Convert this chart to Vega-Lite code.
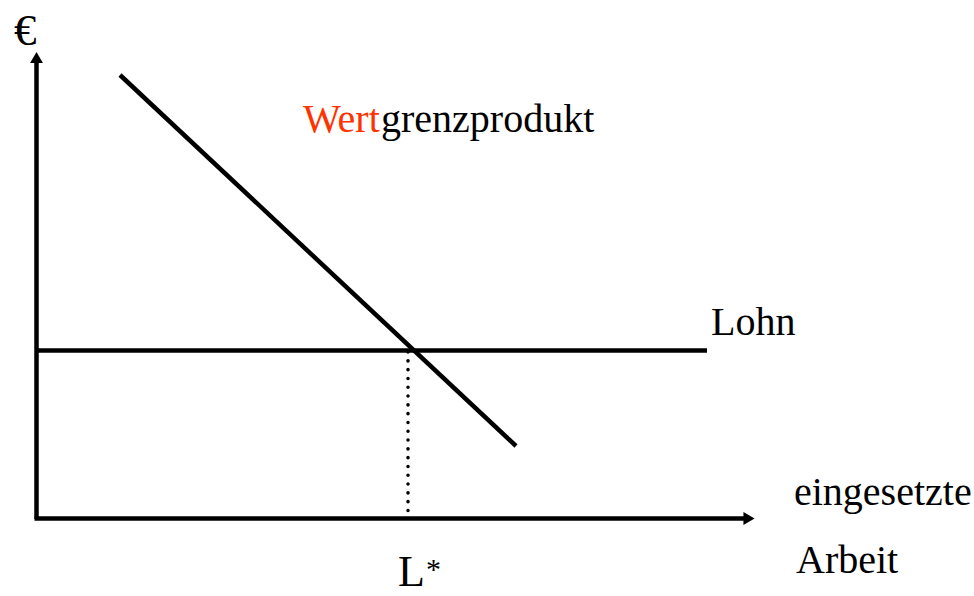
{
  "$schema": "https://vega.github.io/schema/vega-lite/v6.json",
  "width": 974,
  "height": 596,
  "padding": 0,
  "autosize": "none",
  "background": "white",
  "config": {"view": {"stroke": null}},
  "datasets": {
    "solid": [
      {"name": "y-Achse", "x1": 36.5, "y1": 77, "x2": 36.5, "y2": 536},
      {"name": "x-Achse", "x1": 34.5, "y1": 77.5, "x2": 745, "y2": 77.5},
      {"name": "Wertgrenzprodukt", "x1": 120, "y1": 521, "x2": 516, "y2": 150},
      {"name": "Lohn", "x1": 36.5, "y1": 245.5, "x2": 707, "y2": 245.5}
    ],
    "dotted": [
      {"name": "L*", "x1": 408, "y1": 244, "x2": 408, "y2": 80}
    ],
    "arrows": [
      {"dir": "up", "x": 36.5, "y": 538.5},
      {"dir": "right", "x": 749, "y": 77.5}
    ],
    "labels": [
      {"label": "€", "x": 14, "y": 551, "color": "#000000", "size": 45},
      {"label": "Wert", "x": 303, "y": 464, "color": "#FF3300", "size": 40},
      {"label": "grenzprodukt", "x": 381, "y": 464, "color": "#000000", "size": 40},
      {"label": "Lohn", "x": 711, "y": 261, "color": "#000000", "size": 40},
      {"label": "eingesetzte", "x": 794, "y": 91, "color": "#000000", "size": 40},
      {"label": "Arbeit", "x": 796, "y": 23, "color": "#000000", "size": 40},
      {"label": "L", "x": 398, "y": 10, "color": "#000000", "size": 44},
      {"label": "*", "x": 426, "y": 17, "color": "#000000", "size": 30}
    ]
  },
  "layer": [
    {
      "data": {"name": "solid"},
      "mark": {"type": "rule", "strokeWidth": 4.5, "color": "black", "strokeCap": "butt"},
      "encoding": {
        "x": {"field": "x1", "type": "quantitative", "scale": {"domain": [0, 974], "nice": false, "zero": false}, "axis": null},
        "y": {"field": "y1", "type": "quantitative", "scale": {"domain": [0, 596], "nice": false, "zero": false}, "axis": null},
        "x2": {"field": "x2"},
        "y2": {"field": "y2"}
      }
    },
    {
      "data": {"name": "dotted"},
      "mark": {"type": "rule", "strokeWidth": 3.5, "color": "black", "strokeCap": "round", "strokeDash": [0.1, 8.7]},
      "encoding": {
        "x": {"field": "x1", "type": "quantitative"},
        "y": {"field": "y1", "type": "quantitative"},
        "x2": {"field": "x2"},
        "y2": {"field": "y2"}
      }
    },
    {
      "data": {"name": "arrows"},
      "mark": {"type": "point", "filled": true, "color": "black", "opacity": 1, "size": 165},
      "encoding": {
        "x": {"field": "x", "type": "quantitative"},
        "y": {"field": "y", "type": "quantitative"},
        "shape": {"field": "dir", "type": "nominal", "scale": {"domain": ["up", "right"], "range": ["triangle-up", "triangle-right"]}, "legend": null}
      }
    },
    {
      "data": {"name": "labels"},
      "mark": {"type": "text", "font": "Liberation Serif", "align": "left", "baseline": "alphabetic"},
      "encoding": {
        "x": {"field": "x", "type": "quantitative"},
        "y": {"field": "y", "type": "quantitative"},
        "text": {"field": "label"},
        "color": {"field": "color", "type": "nominal", "scale": null},
        "size": {"field": "size", "type": "quantitative", "scale": null}
      }
    }
  ]
}
